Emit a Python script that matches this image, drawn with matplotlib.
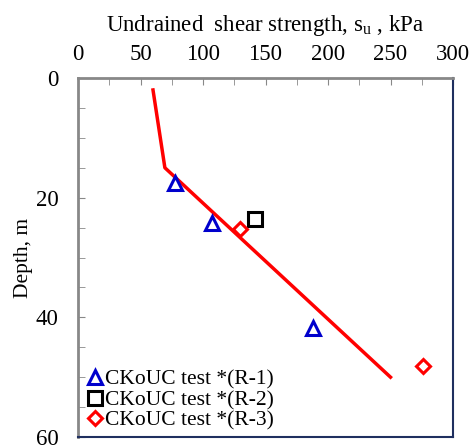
import matplotlib
matplotlib.use("Agg")
import matplotlib.pyplot as plt
from matplotlib.ticker import MultipleLocator

plt.rcParams['font.family'] = ['Liberation Serif', 'DejaVu Serif']

# trend line
line_su = [60, 69.5, 250]
line_z = [2, 15, 50]

# test data
r1_su = [77.5, 107, 188]
r1_z = [17.5, 24.2, 41.8]
r2_su = [141.5]
r2_z = [23.6]
r3_su = [129.5, 276]
r3_z = [25.2, 48.2]

fig = plt.figure(figsize=(4.70, 4.46), dpi=100)
ax = fig.add_axes([78/470, 1-437/446, 375/470, 359/446])

ax.plot(line_su, line_z, color='red', lw=2.5, zorder=2)
ax.plot(r1_su, r1_z, ls='none', marker='^', ms=9.5, mfc='none', mec='#0000cc', mew=2.2,
        label='CKoUC test *(R-1)', zorder=3)
ax.plot(r2_su, r2_z, ls='none', marker='s', ms=10, mfc='none', mec='black', mew=2.2,
        label='CKoUC test *(R-2)', zorder=3)
ax.plot(r3_su, r3_z, ls='none', marker='D', ms=7.5, mfc='none', mec='red', mew=2.2,
        label='CKoUC test *(R-3)', zorder=3)

ax.set_xlim(0, 300)
ax.set_ylim(60, 0)
ax.xaxis.tick_top()
ax.xaxis.set_label_position('top')
ax.xaxis.set_major_locator(MultipleLocator(50))
ax.xaxis.set_minor_locator(MultipleLocator(25))
ax.yaxis.set_major_locator(MultipleLocator(20))
ax.yaxis.set_minor_locator(MultipleLocator(5))
ax.tick_params(which='both', direction='in', length=5, color='#888888', labelsize=16.5)
ax.tick_params(axis='x', pad=9)
ax.tick_params(axis='y', pad=14)

ax.set_xlabel('Undrained  shear strength, s$_\\mathregular{u}$ , kPa', fontsize=16.5, labelpad=10)
ax.set_ylabel('Depth, m', fontsize=15.5, labelpad=2)

for s in ['left', 'top']:
    ax.spines[s].set_color('#888888')
    ax.spines[s].set_linewidth(2)
for s in ['right', 'bottom']:
    ax.spines[s].set_color('#1f2f5f')
    ax.spines[s].set_linewidth(1.5)

ax.legend(loc='lower left', frameon=False, fontsize=15.5, handletextpad=-0.05,
          handlelength=1.0, borderaxespad=0.2, labelspacing=0.02, borderpad=0.1)

fig.savefig('out.png', dpi=100)
